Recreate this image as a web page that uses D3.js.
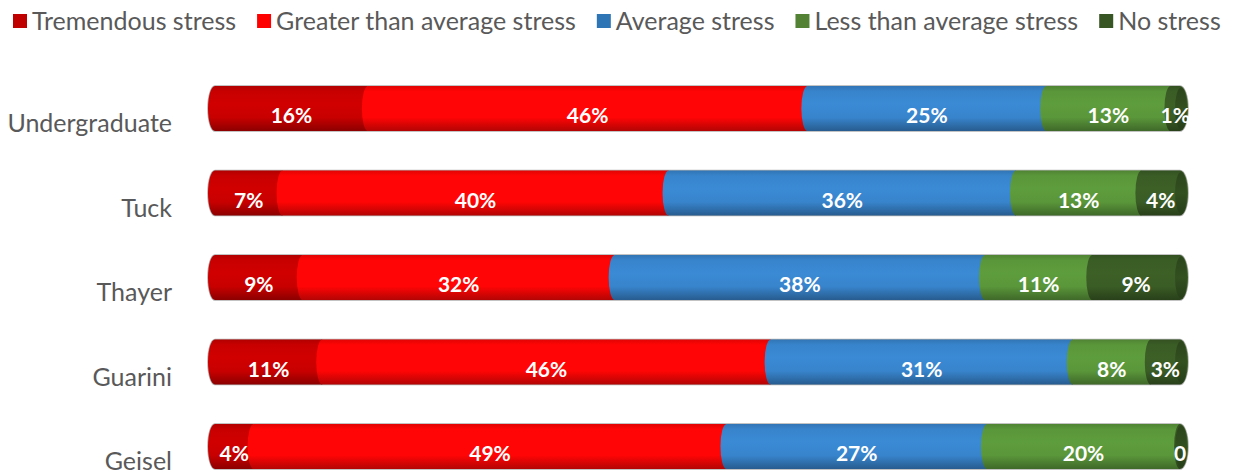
<!DOCTYPE html>
<html>
<head>
<meta charset="utf-8">
<script src="https://cdn.jsdelivr.net/npm/d3@7"></script>
<style>
  body { margin: 0; background: #fff; }
  text { font-family: Lato, "Open Sans", sans-serif; }
</style>
</head>
<body>
<script>
const width = 1238, height = 473;

const categories = ["Undergraduate", "Tuck", "Thayer", "Guarini", "Geisel"];
const seriesNames = ["Tremendous stress", "Greater than average stress", "Average stress", "Less than average stress", "No stress"];
const tremendous = [16, 7, 9, 11, 4];
const greater    = [46, 40, 32, 46, 49];
const average    = [25, 36, 38, 31, 27];
const less       = [13, 13, 11, 8, 20];
const none       = [1, 4, 9, 3, 0];
const barColors    = ["#c80000", "#ff0505", "#3884cc", "#5a963a", "#3a5c25"];
const legendColors = ["#c00000", "#ff0000", "#2e75b6", "#548235", "#375623"];

const rows = categories.map((c, i) => ({
  cat: c,
  [seriesNames[0]]: tremendous[i],
  [seriesNames[1]]: greater[i],
  [seriesNames[2]]: average[i],
  [seriesNames[3]]: less[i],
  [seriesNames[4]]: none[i]
}));

const stacked = d3.stack().keys(seriesNames).offset(d3.stackOffsetExpand)(rows);

const x = d3.scaleLinear().domain([0, 1]).range([215, 1180]);
const y = d3.scaleBand().domain(categories).range([86, 469]).paddingInner(0.467).paddingOuter(0);
const h = y.bandwidth();
const rx = 6;

const svg = d3.select("body").append("svg").attr("width", width).attr("height", height);
const defs = svg.append("defs");

barColors.forEach((c, i) => {
  const g = defs.append("linearGradient").attr("id", "g" + i)
    .attr("x1", 0).attr("y1", 0).attr("x2", 0).attr("y2", 1);
  const base = d3.color(c);
  g.append("stop").attr("offset", "0%").attr("stop-color", base.darker(0.35));
  g.append("stop").attr("offset", "12%").attr("stop-color", base);
  g.append("stop").attr("offset", "40%").attr("stop-color", base.brighter(0.12));
  g.append("stop").attr("offset", "70%").attr("stop-color", base);
  g.append("stop").attr("offset", "100%").attr("stop-color", base.darker(1));
  const f = defs.append("linearGradient").attr("id", "f" + i)
    .attr("x1", 0).attr("y1", 0).attr("x2", 0).attr("y2", 1);
  f.append("stop").attr("offset", "0%").attr("stop-color", base.darker(0.8));
  f.append("stop").attr("offset", "50%").attr("stop-color", base.darker(0.4));
  f.append("stop").attr("offset", "100%").attr("stop-color", base.darker(1.1));
});

// outline behind each bar
svg.append("g").selectAll("path")
  .data(categories)
  .join("path")
    .attr("fill", "none")
    .attr("stroke", "#b0b0b0")
    .attr("stroke-width", 1.5)
    .attr("d", c => {
      const t = y(c), b = t + h, x0 = x(0), x1 = x(1);
      return `M${x0},${t}L${x1},${t}A${rx + 2},${h / 2} 0 0 1 ${x1},${b}L${x0},${b}A${rx + 1},${h / 2} 0 0 1 ${x0},${t}Z`;
    });

const layers = svg.append("g").selectAll("g")
  .data(stacked)
  .join("g")
    .attr("fill", (d, i) => `url(#g${i})`);

layers.selectAll("path")
  .data(d => d.map(p => ({p, key: d.key, idx: d.index})))
  .join("path")
    .attr("d", ({p, idx}) => {
      const t = y(p.data.cat), b = t + h;
      const x0 = x(p[0]), x1 = x(p[1]);
      const lrx = idx === 0 ? rx + 1 : rx;
      const right = idx === seriesNames.length - 1
        ? `A${rx + 2},${h / 2} 0 0 1 ${x1},${b}`
        : `L${x1},${b}`;
      return `M${x0},${t}L${x1},${t}${right}L${x0},${b}A${lrx},${h / 2} 0 0 1 ${x0},${t}Z`;
    });

// right end caps
const last = stacked[stacked.length - 1];
svg.append("g").selectAll("ellipse")
  .data(last)
  .join("ellipse")
    .attr("cx", x(1) + 1)
    .attr("cy", d => y(d.data.cat) + h / 2)
    .attr("rx", rx)
    .attr("ry", h / 2 - 1.5)
    .attr("fill", `url(#f${seriesNames.length - 1})`);

// value labels, on top of the caps
const fmt = v => v === 0 ? "0" : v + "%";
svg.append("g").selectAll("g")
  .data(stacked)
  .join("g")
  .selectAll("text")
  .data(d => d.map(p => ({p, key: d.key})))
  .join("text")
    .attr("x", ({p}) => (x(p[0]) + x(p[1])) / 2)
    .attr("y", ({p}) => y(p.data.cat) + 30)
    .attr("dy", "0.35em")
    .attr("text-anchor", "middle")
    .attr("fill", "#fff")
    .attr("font-weight", "bold")
    .attr("font-size", 21)
    .text(({p, key}) => fmt(p.data[key]));

// category axis
const axis = svg.append("g")
  .attr("transform", "translate(172,0)")
  .call(d3.axisLeft(y).tickSize(0).tickPadding(0));
axis.select(".domain").remove();
axis.selectAll("text")
  .attr("fill", "#595959")
  .attr("font-size", 25)
  .attr("dy", "0.35em")
  .attr("transform", "translate(0,15)");

// legend
const legend = svg.append("g").attr("transform", "translate(13,21)");
let lx = 0;
seriesNames.forEach((name, i) => {
  const item = legend.append("g").attr("transform", `translate(${lx},0)`);
  item.append("rect").attr("x", 0).attr("y", -7).attr("width", 14).attr("height", 14).attr("fill", legendColors[i]);
  const t = item.append("text").attr("x", 19).attr("dy", "0.35em")
    .attr("fill", "#595959").attr("font-size", 25).text(name);
  lx += 19 + t.node().getComputedTextLength() + 21;
});
</script>
</body>
</html>
